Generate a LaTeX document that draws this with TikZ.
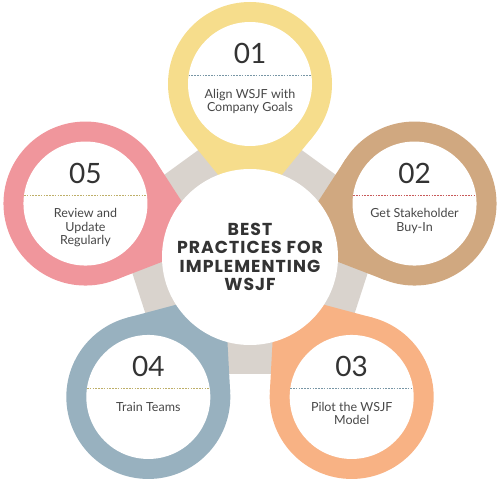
\documentclass[tikz,border=0pt]{standalone}
\usepackage{fontspec}
\setmainfont{Lato}
\newfontfamily\titlefont[LetterSpace=6]{Poppins}
\usetikzlibrary{calc,shapes.geometric}

\definecolor{petalyellow}{RGB}{246,221,140}
\definecolor{petaltan}{RGB}{208,168,128}
\definecolor{petalpeach}{RGB}{248,178,132}
\definecolor{petalblue}{RGB}{152,177,191}
\definecolor{petalpink}{RGB}{240,150,156}
\definecolor{ringgrey}{RGB}{217,211,205}
\definecolor{inkgrey}{RGB}{51,51,51}
\definecolor{dashblue}{RGB}{120,150,165}
\definecolor{dashred}{RGB}{200,90,90}
\definecolor{dashkhaki}{RGB}{190,175,105}

\begin{document}
\begin{tikzpicture}[
        x=1pt, y=1pt,
        petal/.style={
            circle,
            minimum size=164pt,
            inner sep=0pt,
            outer sep=0pt,
        },
        hole/.style={
            circle,
            fill=white,
            minimum size=124pt,
            inner sep=0pt,
            outer sep=0pt,
        },
        hub/.style={
            circle,
            fill=white,
            minimum size=176pt,
            inner sep=0pt,
            text=inkgrey,
            align=center,
            font=\titlefont\bfseries\fontsize{17.3}{18.5}\selectfont,
        },
        num/.style={
            anchor=base,
            text=inkgrey,
            font=\fontsize{28}{30}\selectfont,
        },
        steptext/.style={
            anchor=north,
            align=center,
            inner sep=0pt,
            text=inkgrey!90,
            font=\fontsize{12.5}{13.2}\selectfont,
        },
        sep/.style={
            line width=0.7pt,
            dash pattern=on 1.6pt off 1.2pt,
        },
    ]
        \useasboundingbox (0,0) rectangle (502,482);
        \coordinate (mid) at (250,225);

        % grey ring behind the petals
        \node [regular polygon, regular polygon sides=5, minimum size=289pt,
            inner sep=0pt, fill=ringgrey] (ring) at (mid) {};

        % petals
        \node [petal, fill=petalyellow] (p1) at ($(mid)+(90:173)$) {};
        \node [petal, fill=petaltan] (p2) at ($(mid)+(18:173)$) {};
        \node [petal, fill=petalpeach] (p3) at ($(mid)+(306:173)$) {};
        \node [petal, fill=petalblue] (p4) at ($(mid)+(234:173)$) {};
        \node [petal, fill=petalpink] (p5) at ($(mid)+(162:173)$) {};

        \coordinate (t1) at ($(mid)+(90:43)$);
        \coordinate (t2) at ($(mid)+(18:43)$);
        \coordinate (t3) at ($(mid)+(306:43)$);
        \coordinate (t4) at ($(mid)+(234:43)$);
        \coordinate (t5) at ($(mid)+(162:43)$);

        \fill [petalyellow] (t1) -- (tangent cs:node=p1,point={(t1)},solution=1)
            -- (tangent cs:node=p1,point={(t1)},solution=2) -- cycle;
        \fill [petaltan] (t2) -- (tangent cs:node=p2,point={(t2)},solution=1)
            -- (tangent cs:node=p2,point={(t2)},solution=2) -- cycle;
        \fill [petalpeach] (t3) -- (tangent cs:node=p3,point={(t3)},solution=1)
            -- (tangent cs:node=p3,point={(t3)},solution=2) -- cycle;
        \fill [petalblue] (t4) -- (tangent cs:node=p4,point={(t4)},solution=1)
            -- (tangent cs:node=p4,point={(t4)},solution=2) -- cycle;
        \fill [petalpink] (t5) -- (tangent cs:node=p5,point={(t5)},solution=1)
            -- (tangent cs:node=p5,point={(t5)},solution=2) -- cycle;

        \node [hole] (w1) at (p1) {};
        \node [hole] (w2) at (p2) {};
        \node [hole] (w3) at (p3) {};
        \node [hole] (w4) at (p4) {};
        \node [hole] (w5) at (p5) {};

        % centre
        \node [hub] (hub) at (mid) {BEST\\PRACTICES FOR\\IMPLEMENTING\\WSJF};

        % step texts
        \draw [sep, dashblue] (w1.172) -- (w1.8);
        \node [num] (n1) at ($(w1.center)+(0,20)$) {01};
        \node [steptext] (s1) at ($(w1.center)+(0,-5)$) {Align WSJF with\\Company Goals};

        \draw [sep, dashred] (w2.172) -- (w2.8);
        \node [num] (n2) at ($(w2.center)+(0,20)$) {02};
        \node [steptext] (s2) at ($(w2.center)+(0,-5)$) {Get Stakeholder\\Buy-In};

        \draw [sep, dashblue] (w3.172) -- (w3.8);
        \node [num] (n3) at ($(w3.center)+(0,20)$) {03};
        \node [steptext] (s3) at ($(w3.center)+(0,-5)$) {Pilot the WSJF\\Model};

        \draw [sep, dashkhaki] (w4.172) -- (w4.8);
        \node [num] (n4) at ($(w4.center)+(0,20)$) {04};
        \node [steptext] (s4) at ($(w4.center)+(0,-5)$) {Train Teams};

        \draw [sep, dashkhaki] (w5.172) -- (w5.8);
        \node [num] (n5) at ($(w5.center)+(0,20)$) {05};
        \node [steptext] (s5) at ($(w5.center)+(0,-5)$) {Review and\\Update\\Regularly};
    \end{tikzpicture}
\end{document}
